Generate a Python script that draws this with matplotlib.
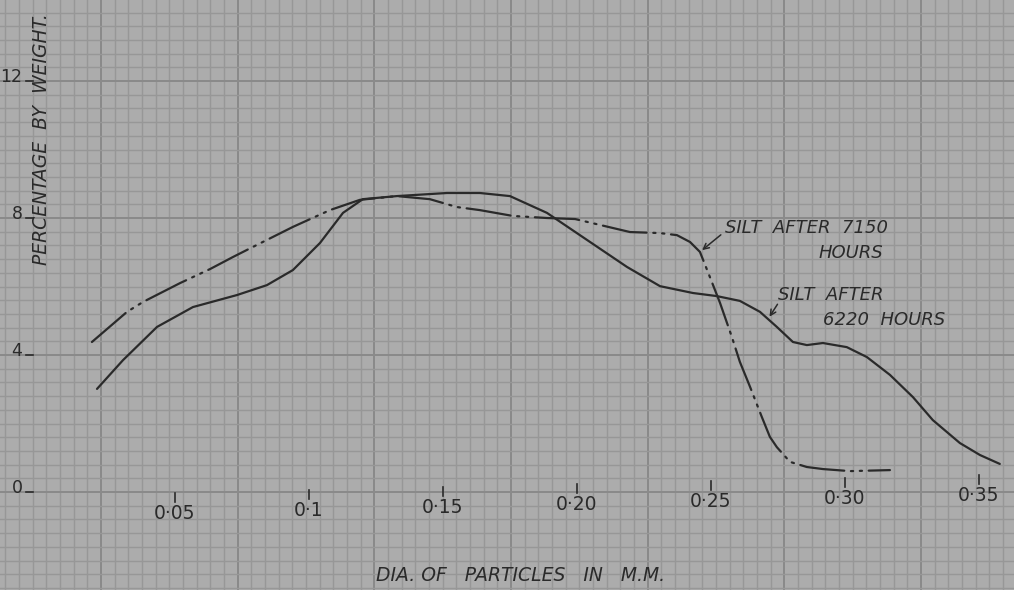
import numpy as np
import matplotlib
matplotlib.use("Agg")
import matplotlib.pyplot as plt
from matplotlib.transforms import blended_transform_factory

# silt after 6220 hours (solid line)
dia_6220 = [0.0209, 0.0306, 0.0433, 0.0567, 0.0731, 0.0843, 0.0940, 0.1041, 0.1127,
            0.1201, 0.1328, 0.1515, 0.1638, 0.1750, 0.1888, 0.2011, 0.2187, 0.2310,
            0.2433, 0.2522, 0.2608, 0.2683, 0.2746, 0.2806, 0.2858, 0.2918, 0.3007,
            0.3082, 0.3168, 0.3254, 0.3328, 0.3429, 0.3504, 0.3578]
pct_6220 = [3.01, 3.85, 4.82, 5.40, 5.75, 6.04, 6.48, 7.27, 8.15,
            8.55, 8.64, 8.73, 8.73, 8.64, 8.15, 7.50, 6.57, 6.01,
            5.81, 5.72, 5.58, 5.26, 4.82, 4.38, 4.29, 4.35, 4.23,
            3.94, 3.42, 2.77, 2.10, 1.43, 1.08, 0.82]

# silt after 7150 hours (dash-dot line)
dia_7150 = [0.0190, 0.0321, 0.0381, 0.0519, 0.0631, 0.0716, 0.0769, 0.0940, 0.1078,
            0.1190, 0.1328, 0.1451, 0.1552, 0.1638, 0.1761, 0.1888, 0.1993, 0.2198,
            0.2310, 0.2373, 0.2422, 0.2459, 0.2496, 0.2534, 0.2578, 0.2608, 0.2646,
            0.2690, 0.2720, 0.2746, 0.2795, 0.2858, 0.2918, 0.3019, 0.3168]
pct_7150 = [4.38, 5.26, 5.55, 6.10, 6.51, 6.86, 7.07, 7.74, 8.23,
            8.53, 8.64, 8.55, 8.32, 8.23, 8.06, 8.00, 7.97, 7.59,
            7.56, 7.50, 7.30, 7.01, 6.28, 5.52, 4.53, 3.80, 3.07,
            2.19, 1.61, 1.31, 0.88, 0.73, 0.67, 0.61, 0.64]

x_ticks = [0.05, 0.10, 0.15, 0.20, 0.25, 0.30, 0.35]
x_labels = ["0·05", "0·1", "0·15", "0·20", "0·25", "0·30", "0·35"]
y_ticks = [0, 4, 8, 12]
y_labels = ["0", "4", "8", "12"]

paper = "#acacac"
grid_minor = "#979797"
grid_major = "#8a8a8a"
ink = "#2a2a2a"

fig = plt.figure(figsize=(10.14, 5.90), dpi=100, facecolor=paper)
ax = fig.add_axes([0, 0, 1, 1])
ax.set_facecolor(paper)
ax.set_xlim(-0.0153, 0.3631)
ax.set_ylim(-2.861, 14.365)
ax.axis("off")

# graph paper
gx0, gstep = 0.0224, 0.0051
for k in range(-10, 80):
    gx = gx0 + k * gstep
    major = (k % 10 == 0)
    ax.axvline(gx, color=grid_major if major else grid_minor,
               lw=1.4 if major else 1.0, zorder=0)
for k in range(-10, 40):
    gy = k * 0.4
    major = (k % 10 == 0)
    ax.axhline(gy, color=grid_major if major else grid_minor,
               lw=1.4 if major else 1.0, zorder=0)

# curves
ax.plot(dia_6220, pct_6220, color=ink, lw=1.6, solid_capstyle="round",
        solid_joinstyle="round", zorder=3)
ax.plot(dia_7150, pct_7150, color=ink, lw=1.6,
        linestyle=(0, (20, 3, 1, 3, 1, 3)),
        dash_capstyle="round", zorder=3)

# x ticks, drawn by hand (paper is slightly tilted)
tilt = 1.75
for xv, lab in zip(x_ticks, x_labels):
    yc = -0.64 + (xv - 0.05) * tilt
    ax.plot([xv, xv], [yc + 0.35, yc + 0.62], color=ink, lw=1.2, zorder=3)
    ax.text(xv, yc, lab, ha="center", va="center", fontsize=13.5, color=ink)

# y ticks
tr = blended_transform_factory(ax.transAxes, ax.transData)
for yv, lab in zip(y_ticks, y_labels):
    ax.plot([0.0256, 0.0325], [yv, yv], color=ink, lw=1.2, transform=tr, zorder=3)
    ax.text(0.0222, yv + 0.12, lab, ha="right", va="center", fontsize=12.5,
            color=ink, transform=tr)

# axis titles
ax.text(0.0414, 10.3, "PERCENTAGE  BY  WEIGHT.", rotation=90, ha="center",
        va="center", fontsize=13.5, style="italic", color=ink, transform=tr)
ax.text(0.1791, -2.45, "DIA. OF   PARTICLES   IN   M.M.", ha="center",
        va="center", fontsize=13.5, style="italic", color=ink)

# labels with arrows
ax.annotate("", xy=(0.2459, 7.01), xytext=(0.2545, 7.56),
            arrowprops=dict(arrowstyle="->", color=ink, lw=1.1))
ax.text(0.2552, 7.72, "SILT  AFTER  7150", ha="left", va="center",
        fontsize=13, style="italic", color=ink)
ax.text(0.2903, 6.98, "HOURS", ha="left", va="center",
        fontsize=13, style="italic", color=ink)

ax.annotate("", xy=(0.2713, 5.05), xytext=(0.2754, 5.55),
            arrowprops=dict(arrowstyle="->", color=ink, lw=1.1))
ax.text(0.2750, 5.75, "SILT  AFTER", ha="left", va="center",
        fontsize=13, style="italic", color=ink)
ax.text(0.2918, 5.02, "6220  HOURS", ha="left", va="center",
        fontsize=13, style="italic", color=ink)

fig.savefig("out.png", dpi=100, facecolor=paper)
